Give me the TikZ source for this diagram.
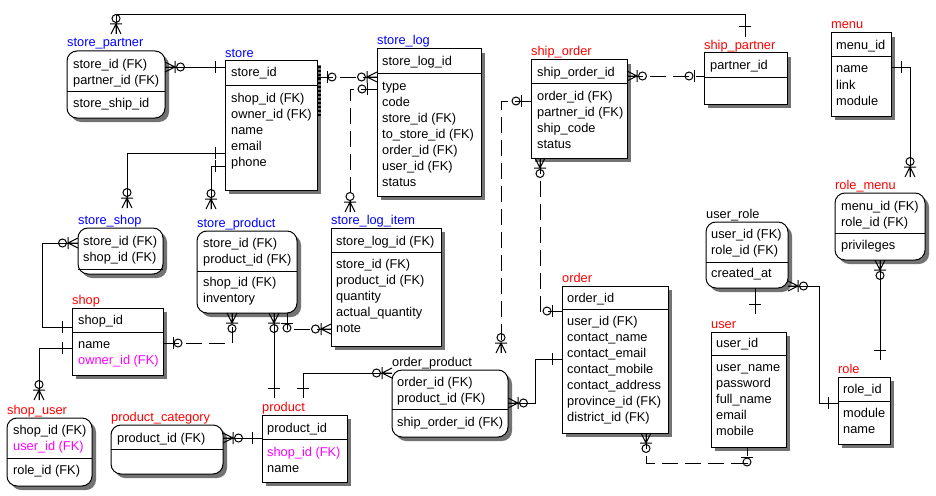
\documentclass[tikz,border=0pt]{standalone}
\usepackage{fontspec}
\setmainfont{Liberation Sans}
\usetikzlibrary{shadows}
\definecolor{erblue}{RGB}{0,0,255}
\definecolor{erred}{RGB}{255,0,0}
\definecolor{ermag}{RGB}{255,0,255}

\tikzset{
  ent/.style={draw, fill=white, line width=1pt, inner sep=0pt, outer sep=0pt,
    anchor=north west,
    drop shadow={shadow xshift=4pt, shadow yshift=-4pt, fill=black!55, opacity=1}},
  rent/.style={ent, rounded corners=10pt},
  txt/.style={anchor=base west, inner sep=0pt, font=\fontsize{12.8}{16}\selectfont},
  conn/.style={line width=1pt},
  dconn/.style={conn, dash pattern=on 16pt off 7pt},
  sym/.style={line width=1pt, solid},
  % relationship ends, drawn with the entity at the origin and the line along +x
  pics/relone/.style={code={\draw[sym] (10,-6) -- (10,6);}},
  pics/relzone/.style={code={\draw[sym] (10,-6) -- (10,6);
      \draw[sym] (15,0) circle[radius=4pt];}},
  pics/relzmany/.style={code={\draw[sym] (0,5) -- (10,0) -- (0,-5) (0,0) -- (10,0)
      (10,-6) -- (10,6);
      \draw[sym] (15.5,0) circle[radius=4pt];}},
}

% entity box: name, style, x1, y1, x2, y2, divider y, label colour, label
\newcommand\entbox[9]{%
  \node[#2, minimum width={(#5-#3)*1pt}, minimum height={(#6-#4)*1pt}] (#1) at (#3,#4) {};
  \draw[line width=1pt] (#1.west |- 0,#7) -- (#1.east |- 0,#7);
  \node[txt, text=#8] (#1-lbl) at (#3,#4-4) {#9};
}
% column rows: node prefix, x, first baseline, list of texts
\newcommand\rows[4]{%
  \foreach \t [count=\i] in {#4} {\node[txt] (#1-\i) at (#2,{#3+16*(\i-1)}) {\t};}
}
\newcommand\relend[3]{\pic[rotate=#2] at #3 {#1};}

\begin{document}
\begin{tikzpicture}[x=1pt, y=-1pt]
\fill[white] (0,0) rectangle (936,495);
\useasboundingbox (0,0) rectangle (936,495);

% ---------- entities ----------
\entbox{storepartner}{rent}{67}{51}{165}{118}{91}{erblue}{store\_partner}
\rows{storepartner-k}{73}{68}{store\_id (FK), partner\_id (FK)}
\rows{storepartner-a}{73}{107}{store\_ship\_id}

\entbox{store}{ent}{225}{61}{317}{190}{85}{erblue}{store}
\rows{store-k}{231}{77}{store\_id}
\rows{store-a}{231}{102}{shop\_id (FK), owner\_id (FK), name, email, phone}
\draw[line width=3.5pt, dash pattern=on 2pt off 2pt] (319,66) -- (319,117);

\entbox{storelog}{ent}{377}{49}{481}{196}{73}{erblue}{store\_log}
\rows{storelog-k}{382}{66}{store\_log\_id}
\rows{storelog-a}{382}{90}{type, code, store\_id (FK), to\_store\_id (FK), order\_id (FK), user\_id (FK), status}

\entbox{shiporder}{ent}{531}{60}{627}{158}{83}{erred}{ship\_order}
\rows{shiporder-k}{537}{76}{ship\_order\_id}
\rows{shiporder-a}{537}{100}{order\_id (FK), partner\_id (FK), ship\_code, status}

\entbox{shippartner}{ent}{704}{53}{787}{104}{77}{erred}{ship\_partner}
\rows{shippartner-k}{710}{70}{partner\_id}

\entbox{menu}{ent}{831}{33}{891}{116}{57}{erred}{menu}
\rows{menu-k}{836}{49}{menu\_id}
\rows{menu-a}{836}{73}{name, link, module}

\entbox{rolemenu}{rent}{835}{193}{925}{260}{233}{erred}{role\_menu}
\rows{rolemenu-k}{841}{210}{menu\_id (FK), role\_id (FK)}
\rows{rolemenu-a}{841}{249}{privileges}

\entbox{storeshop}{rent}{78}{228}{163}{274}{269}{erblue}{store\_shop}
\rows{storeshop-k}{83}{245}{store\_id (FK), shop\_id (FK)}

\entbox{storeproduct}{rent}{197}{231}{297}{313}{271}{erblue}{store\_product}
\rows{storeproduct-k}{203}{247}{store\_id (FK), product\_id (FK)}
\rows{storeproduct-a}{203}{286}{shop\_id (FK), inventory}

\entbox{storelogitem}{ent}{331}{228}{441}{346}{252}{erblue}{store\_log\_item}
\rows{storelogitem-k}{336}{245}{store\_log\_id (FK)}
\rows{storelogitem-a}{336}{268}{store\_id (FK), product\_id (FK), quantity, actual\_quantity, note}

\entbox{userrole}{rent}{706}{222}{788}{288}{262}{black}{user\_role}
\rows{userrole-k}{711}{238}{user\_id (FK), role\_id (FK)}
\rows{userrole-a}{711}{277}{created\_at}

\entbox{shop}{ent}{72}{308}{163}{375}{332}{erred}{shop}
\rows{shop-k}{78}{324}{shop\_id}
\rows{shop-a}{78}{348}{name, {\color{ermag}owner\_id (FK)}}

\entbox{order}{ent}{562}{286}{668}{433}{309}{erred}{order}
\rows{order-k}{567}{302}{order\_id}
\rows{order-a}{567}{325}{user\_id (FK), contact\_name, contact\_email, contact\_mobile, contact\_address, province\_id (FK), district\_id (FK)}

\entbox{user}{ent}{711}{332}{786}{447}{355}{erred}{user}
\rows{user-k}{716}{347}{user\_id}
\rows{user-a}{716}{371}{user\_name, password, full\_name, email, mobile}

\entbox{role}{ent}{838}{377}{890}{444}{401}{erred}{role}
\rows{role-k}{843}{393}{role\_id}
\rows{role-a}{843}{417}{module, name}

\entbox{orderproduct}{rent}{392}{370}{508}{437}{409}{black}{order\_product}
\rows{orderproduct-k}{397}{386}{order\_id (FK), product\_id (FK)}
\rows{orderproduct-a}{397}{426}{ship\_order\_id (FK)}

\entbox{shopuser}{rent}{7}{418}{92}{486}{458}{erred}{shop\_user}
\rows{shopuser-k}{13}{434}{shop\_id (FK), {\color{ermag}user\_id (FK)}}
\rows{shopuser-a}{13}{474}{role\_id (FK)}

\entbox{productcategory}{rent}{111}{425}{223}{474}{449}{erred}{product\_category}
\rows{productcategory-k}{117}{442}{product\_id (FK)}

\entbox{product}{ent}{262}{415}{347}{482}{439}{erred}{product}
\rows{product-k}{267}{432}{product\_id}
\rows{product-a}{267}{456}{{\color{ermag}shop\_id (FK)}, name}

% ---------- free ends above entity labels ----------
\coordinate (sp-up) at (116,34);
\coordinate (shp-up) at (745,37);
\coordinate (sli-up) at (350,212);
\coordinate (ss-up) at (127,208);
\coordinate (spr-up) at (211,209);
\coordinate (op-up) at (501,353);
\coordinate (rm-up) at (910,177);
\coordinate (role-up) at (880,360);
\coordinate (su-up) at (39,400);
\coordinate (pr-up1) at (274,398);
\coordinate (pr-up2) at (303,398);
\coordinate (ur-dn) at (755,314);

% ---------- relationships ----------
% store_partner -- store
\draw[conn] (storepartner.east |- 0,67) -- (store.west |- 0,67);
\relend{relzmany}{0}{(storepartner.east |- 0,67)}
\relend{relone}{180}{(store.west |- 0,67)}

% store_partner -- ship_partner
\draw[conn] (sp-up) |- (shp-up |- 0,15) -- (shp-up);
\relend{relzmany}{90}{(sp-up)}
\relend{relone}{90}{(shp-up)}

% store -- store_log
\draw[dconn] (store.east |- 0,77) -- (storelog.west |- 0,77);
\relend{relzone}{0}{(store.east |- 0,77)}
\relend{relzmany}{180}{(storelog.west |- 0,77)}

% store_log -- store_log_item
\draw[dconn] (storelog.west |- 0,89) -| (sli-up);
\relend{relzone}{180}{(storelog.west |- 0,89)}
\relend{relzmany}{90}{(sli-up)}

% store -- store_shop
\draw[conn] (store.west |- 0,153) -| (ss-up);
\relend{relone}{180}{(store.west |- 0,153)}
\relend{relzmany}{90}{(ss-up)}

% store -- store_product
\draw[conn] (store.west |- 0,166) -| (spr-up);
\relend{relone}{180}{(store.west |- 0,166)}
\relend{relzmany}{90}{(spr-up)}

% ship_order -- ship_partner
\draw[dconn] (shiporder.east |- 0,76) -- (shippartner.west |- 0,76);
\relend{relzmany}{0}{(shiporder.east |- 0,76)}
\relend{relzone}{180}{(shippartner.west |- 0,76)}

% ship_order -- order_product
\draw[dconn] (shiporder.west |- 0,101) -| (op-up);
\relend{relzone}{180}{(shiporder.west |- 0,101)}
\relend{relzmany}{90}{(op-up)}

% ship_order -- order
\draw[dconn] (shiporder.south -| 540,0) |- (order.west |- 0,311);
\relend{relzmany}{270}{(shiporder.south -| 540,0)}
\relend{relzone}{180}{(order.west |- 0,311)}

% menu -- role_menu
\draw[conn] (menu.east |- 0,67) -| (rm-up);
\relend{relone}{0}{(menu.east |- 0,67)}
\relend{relzmany}{90}{(rm-up)}

% role -- role_menu
\draw[conn] (rolemenu.south -| 880,0) -- (role-up);
\relend{relzmany}{270}{(rolemenu.south -| 880,0)}
\relend{relone}{90}{(role-up)}

% shop -- store_shop
\draw[conn] (shop.west |- 0,327) -| (42,243) -- (storeshop.west |- 0,243);
\relend{relone}{180}{(shop.west |- 0,327)}
\relend{relzmany}{180}{(storeshop.west |- 0,243)}

% shop -- shop_user
\draw[conn] (shop.west |- 0,348) -| (su-up);
\relend{relone}{180}{(shop.west |- 0,348)}
\relend{relzmany}{90}{(su-up)}

% shop -- store_product
\draw[dconn] (shop.east |- 0,343) -| (storeproduct.south -| 232,0);
\relend{relzone}{0}{(shop.east |- 0,343)}
\relend{relzmany}{270}{(storeproduct.south -| 232,0)}

% product -- store_product
\draw[conn] (storeproduct.south -| 274,0) -- (pr-up1);
\relend{relzmany}{270}{(storeproduct.south -| 274,0)}
\relend{relone}{90}{(pr-up1)}

% store_product -- store_log_item
\draw[dconn] (storeproduct.south -| 287,0) |- (storelogitem.west |- 0,329);
\relend{relzone}{270}{(storeproduct.south -| 287,0)}
\relend{relzmany}{180}{(storelogitem.west |- 0,329)}

% product -- order_product
\draw[conn] (pr-up2) |- (orderproduct.west |- 0,373);
\relend{relone}{90}{(pr-up2)}
\relend{relzmany}{180}{(orderproduct.west |- 0,373)}

% product_category -- product
\draw[conn] (productcategory.east |- 0,438) -- (product.west |- 0,438);
\relend{relzmany}{0}{(productcategory.east |- 0,438)}
\relend{relone}{180}{(product.west |- 0,438)}

% order_product -- order
\draw[conn] (orderproduct.east |- 0,403) -| (535,359) -- (order.west |- 0,359);
\relend{relzmany}{0}{(orderproduct.east |- 0,403)}
\relend{relone}{180}{(order.west |- 0,359)}

% order -- user
\draw[dconn] (order.south -| 646,0) |- (747,463) -- (user.south -| 747,0);
\relend{relzmany}{270}{(order.south -| 646,0)}
\relend{relzone}{270}{(user.south -| 747,0)}

% user -- user_role
\draw[conn] (userrole.south -| 755,0) -- (ur-dn);
\relend{relone}{90}{(ur-dn)}

% user_role -- role
\draw[conn] (userrole.east |- 0,286) -| (819,403) -- (role.west |- 0,403);
\relend{relzmany}{0}{(userrole.east |- 0,286)}
\relend{relone}{180}{(role.west |- 0,403)}
\end{tikzpicture}
\end{document}
